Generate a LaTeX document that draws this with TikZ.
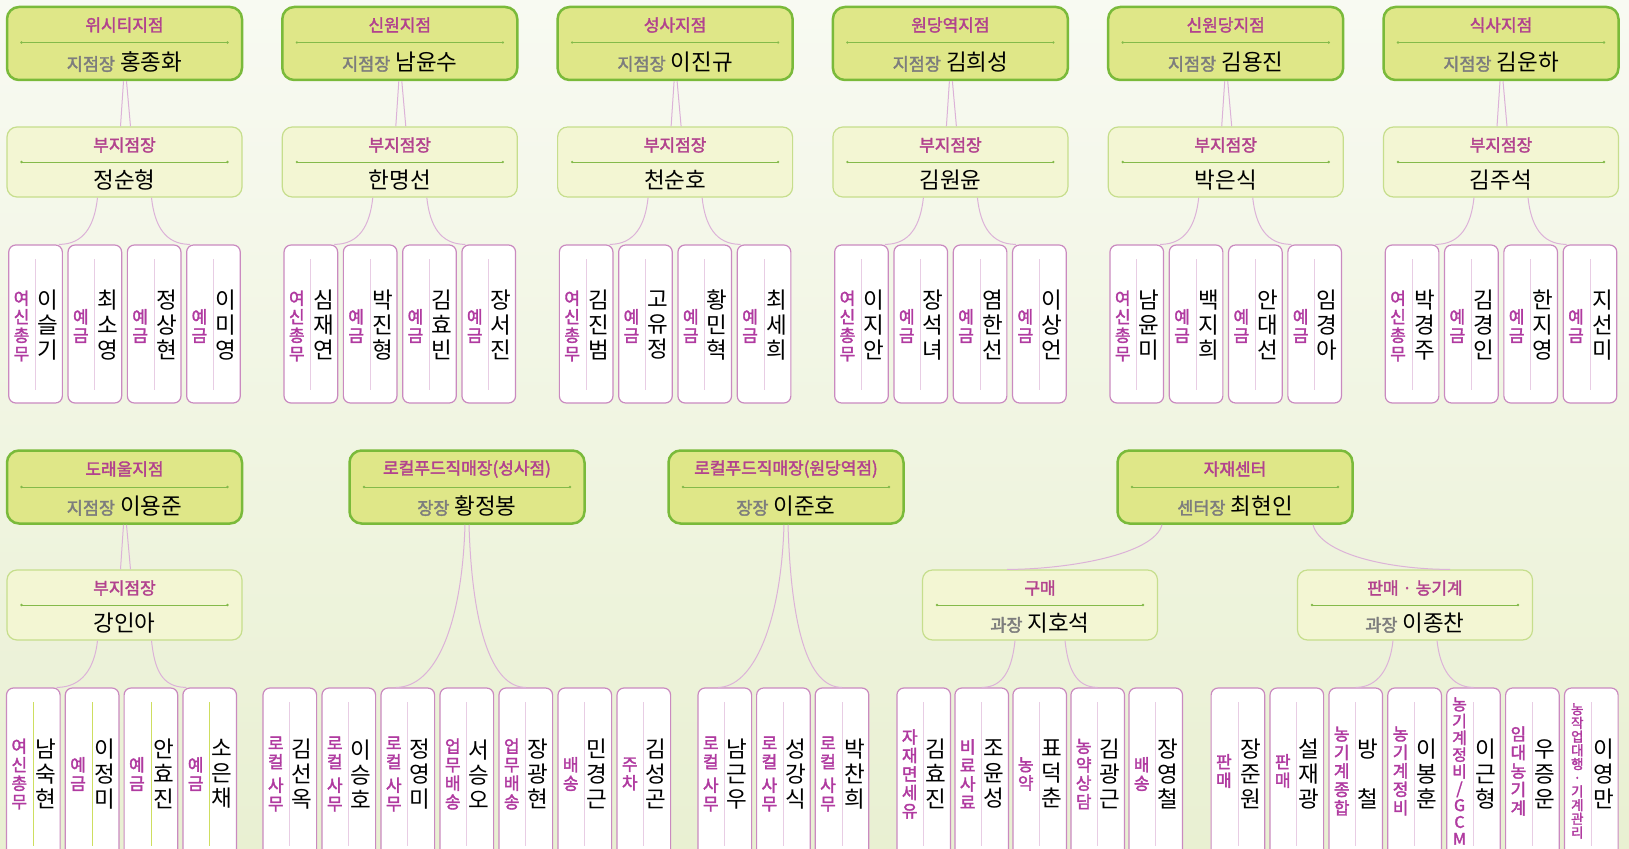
\documentclass[tikz,border=0pt]{standalone}
\usepackage{fontspec}
\setmainfont{Noto Sans CJK KR}
\newfontfamily\krbold{Noto Sans CJK KR}[FakeBold=2]
\usetikzlibrary{positioning}

\definecolor{bgtop}{RGB}{248,250,242}
\definecolor{bgbot}{RGB}{233,240,210}
\definecolor{headfill}{RGB}{223,231,136}
\definecolor{headdraw}{RGB}{122,186,58}
\definecolor{depfill}{RGB}{243,246,211}
\definecolor{depdraw}{RGB}{198,222,140}
\definecolor{memdraw}{RGB}{202,138,192}
\definecolor{titlecol}{RGB}{178,66,142}
\definecolor{rolecol}{RGB}{176,58,160}
\definecolor{linkcol}{RGB}{220,178,216}
\definecolor{labelgrey}{RGB}{125,125,125}
\definecolor{sepgreen}{RGB}{132,186,74}
\definecolor{midpink}{RGB}{232,205,228}
\definecolor{midgreen}{RGB}{206,222,96}

\newcommand{\lbl}[1]{{\color{labelgrey}\krbold\fontsize{17.5}{17.5}\selectfont #1}\ }

\tikzset{
  headbox/.style={draw=headdraw, line width=2.5pt, fill=headfill, rounded corners=12pt,
    minimum width=235pt, minimum height=73pt, inner sep=0pt},
  depbox/.style={draw=depdraw, line width=1.2pt, fill=depfill, rounded corners=10pt,
    minimum width=235pt, minimum height=70pt, inner sep=0pt},
  membox/.style={draw=memdraw, line width=1.2pt, fill=white, rounded corners=7pt,
    minimum width=53.6pt, minimum height=158pt, inner sep=0pt},
  lowbox/.style={membox, minimum height=172pt},
  titletext/.style={text=titlecol, font=\krbold\fontsize{17}{17}\selectfont, inner sep=0pt},
  nametext/.style={font=\fontsize{22.5}{22.5}\selectfont, inner sep=0pt},
  roletext/.style={text=rolecol, font=\krbold\fontsize{17}{18.5}\selectfont, align=center, inner sep=0pt},
  rolemid/.style={roletext, font=\krbold\fontsize{16}{16.8}\selectfont},
  rolesmall/.style={roletext, font=\krbold\fontsize{13.5}{13.7}\selectfont},
  vname/.style={font=\fontsize{22.5}{25}\selectfont, align=center, inner sep=0pt},
  link/.style={draw=linkcol, line width=1pt},
  sepline/.style={draw=sepgreen, line width=0.6pt},
  midline/.style={draw=midpink, line width=0.8pt},
}

\begin{document}
\begin{tikzpicture}[x=1pt,y=-1pt]
  \useasboundingbox (0,0) rectangle (1629,848);
  \clip (0,0) rectangle (1629,848);
  \shade[top color=bgtop, bottom color=bgbot] (0,0) rectangle (1629,848);

  % top row: six branches
  \foreach \i/\br/\boss/\sub in {0/위시티지점/홍종화/정순형, 1/신원지점/남윤수/한명선,
      2/성사지점/이진규/천순호, 3/원당역지점/김희성/김원윤,
      4/신원당지점/김용진/박은식, 5/식사지점/김운하/김주석} {
    \pgfmathsetmacro\cx{124.5+275.3*\i}
    \node[headbox] (h\i) at (\cx,43.5) {};
    \node[titletext] (h\i-t) at (\cx,25) {\br};
    \draw[sepline] (\cx-103,42.5) -- (\cx+103,42.5);
    \fill[sepgreen] (\cx-103,42.5) circle (1.3pt) (\cx+103,42.5) circle (1.3pt);
    \node[nametext] (h\i-n) at (\cx,62) {\lbl{지점장}\boss};
    \node[depbox] (d\i) at (\cx,162) {};
    \node[titletext] (d\i-t) at (\cx,145) {부지점장};
    \draw[sepline] (\cx-103,162) -- (\cx+103,162);
    \fill[sepgreen] (\cx-103,162) circle (1.3pt) (\cx+103,162) circle (1.3pt);
    \node[nametext] (d\i-n) at (\cx,180) {\sub};
    \draw[link] ([xshift=-1pt]h\i.south) -- ([xshift=-4pt]d\i.north);
    \draw[link] ([xshift=2pt]h\i.south) -- ([xshift=6pt]d\i.north);
  }

  \foreach \i/\ma/\mb/\mc/\md in {0/{이\\슬\\기}/{최\\소\\영}/{정\\상\\현}/{이\\미\\영},
      1/{심\\재\\연}/{박\\진\\형}/{김\\효\\빈}/{장\\서\\진},
      2/{김\\진\\범}/{고\\유\\정}/{황\\민\\혁}/{최\\세\\희},
      3/{이\\지\\안}/{장\\석\\녀}/{염\\한\\선}/{이\\상\\언},
      4/{남\\윤\\미}/{백\\지\\희}/{안\\대\\선}/{임\\경\\아},
      5/{박\\경\\주}/{김\\경\\인}/{한\\지\\영}/{지\\선\\미}} {
    \foreach \j/\role/\who in {0/{여\\신\\총\\무}/\ma, 1/{예\\금}/\mb, 2/{예\\금}/\mc, 3/{예\\금}/\md} {
      \pgfmathsetmacro\mx{124.5+275.3*\i+59.3*(\j-1.5)}
      \node[membox] (m\i\j) at (\mx,324) {};
      \draw[midline] (\mx,259) -- (\mx,390);
      \node[roletext] (m\i\j-r) at (\mx-14,326) {\role};
      \node[vname] (m\i\j-n) at (\mx+12.5,325) {\who};
    }
    \draw[link] ([xshift=-27pt]d\i.south) .. controls +(-3,28) and +(25,0) .. ([xshift=-4pt]m\i0.north east);
    \draw[link] ([xshift=27pt]d\i.south) .. controls +(3,28) and +(-25,0) .. ([xshift=4pt]m\i3.north west);
  }

  % bottom row: 도래울
  \node[headbox] (h6) at (124.5,487) {};
  \node[titletext] (h6-t) at (124.5,469) {도래울지점};
  \draw[sepline] (21.5,487) -- (227.5,487);
  \fill[sepgreen] (21.5,487) circle (1.3pt) (227.5,487) circle (1.3pt);
  \node[nametext] (h6-n) at (124.5,506) {\lbl{지점장}이용준};
  \node[depbox] (d6) at (124.5,605) {};
  \node[titletext] (d6-t) at (124.5,588) {부지점장};
  \draw[sepline] (21.5,605) -- (227.5,605);
  \fill[sepgreen] (21.5,605) circle (1.3pt) (227.5,605) circle (1.3pt);
  \node[nametext] (d6-n) at (124.5,623) {강인아};
  \foreach \j/\role/\who in {0/{여\\신\\총\\무}/{남\\숙\\현}, 1/{예\\금}/{이\\정\\미},
      2/{예\\금}/{안\\효\\진}, 3/{예\\금}/{소\\은\\채}} {
    \pgfmathsetmacro\mx{121.5+58.8*(\j-1.5)}
    \node[lowbox] (m6\j) at (\mx,774) {};
    \draw[midline, draw=midgreen] (\mx,702) -- (\mx,846);
    \node[roletext] (m6\j-r) at (\mx-14,774) {\role};
    \node[vname] (m6\j-n) at (\mx+12.5,774) {\who};
  }
  \draw[link] ([xshift=-1pt]h6.south) -- ([xshift=-4pt]d6.north);
  \draw[link] ([xshift=2pt]h6.south) -- ([xshift=6pt]d6.north);
  \draw[link] ([xshift=-27pt]d6.south) .. controls +(-3,28) and +(25,0) .. ([xshift=-4pt]m60.north east);
  \draw[link] ([xshift=27pt]d6.south) .. controls +(3,28) and +(-25,0) .. ([xshift=4pt]m63.north west);

  % 로컬푸드직매장 (성사점)
  \node[headbox] (hls) at (467,487) {};
  \node[titletext] (hls-t) at (467,469) {로컬푸드직매장(성사점)};
  \draw[sepline] (364,487) -- (570,487);
  \fill[sepgreen] (364,487) circle (1.3pt) (570,487) circle (1.3pt);
  \node[nametext] (hls-n) at (467,506) {\lbl{장장}황정봉};
  \foreach \j/\role/\who in {0/{로\\컬\\[5pt]사\\무}/{김\\선\\옥}, 1/{로\\컬\\[5pt]사\\무}/{이\\승\\호},
      2/{로\\컬\\[5pt]사\\무}/{정\\영\\미}, 3/{업\\무\\배\\송}/{서\\승\\오},
      4/{업\\무\\배\\송}/{장\\광\\현}, 5/{배\\송}/{민\\경\\근}, 6/{주\\차}/{김\\성\\곤}} {
    \pgfmathsetmacro\mx{289.8+59*\j}
    \node[lowbox] (ls\j) at (\mx,774) {};
    \draw[midline] (\mx,702) -- (\mx,846);
    \node[roletext] (ls\j-r) at (\mx-14,774) {\role};
    \node[vname] (ls\j-n) at (\mx+12.5,774) {\who};
  }
  \draw[link] ([xshift=-2pt]hls.south) .. controls +(-3,100) and +(40,0) .. ([xshift=-12pt]ls2.north);
  \draw[link] ([xshift=2pt]hls.south) .. controls +(3,100) and +(-35,0) .. (ls4.north);

  % 로컬푸드직매장 (원당역점)
  \node[headbox] (hlw) at (786,487) {};
  \node[titletext] (hlw-t) at (786,469) {로컬푸드직매장(원당역점)};
  \draw[sepline] (683,487) -- (889,487);
  \fill[sepgreen] (683,487) circle (1.3pt) (889,487) circle (1.3pt);
  \node[nametext] (hlw-n) at (786,506) {\lbl{장장}이준호};
  \foreach \j/\who in {0/{남\\근\\우}, 1/{성\\강\\식}, 2/{박\\찬\\희}} {
    \pgfmathsetmacro\mx{724.8+58.6*\j}
    \node[lowbox] (lw\j) at (\mx,774) {};
    \draw[midline] (\mx,702) -- (\mx,846);
    \node[roletext] (lw\j-r) at (\mx-14,774) {로\\컬\\[5pt]사\\무};
    \node[vname] (lw\j-n) at (\mx+12.5,774) {\who};
  }
  \draw[link] ([xshift=-2pt]hlw.south) .. controls +(-3,100) and +(35,0) .. ([xshift=-7pt]lw0.north);
  \draw[link] ([xshift=2pt]hlw.south) .. controls +(3,100) and +(-35,0) .. (lw2.north);

  % 자재센터
  \node[headbox] (hjj) at (1235,487) {};
  \node[titletext] (hjj-t) at (1235,469) {자재센터};
  \draw[sepline] (1132,487) -- (1338,487);
  \fill[sepgreen] (1132,487) circle (1.3pt) (1338,487) circle (1.3pt);
  \node[nametext] (hjj-n) at (1235,506) {\lbl{센터장}최현인};
  \foreach \dn/\cx/\ti/\who in {dgm/1040/구매/지호석, dpm/1415/{판매 · 농기계}/이종찬} {
    \node[depbox] (\dn) at (\cx,605) {};
    \node[titletext] (\dn-t) at (\cx,588) {\ti};
    \draw[sepline] (\cx-103,605) -- (\cx+103,605);
    \fill[sepgreen] (\cx-103,605) circle (1.3pt) (\cx+103,605) circle (1.3pt);
    \node[nametext] (\dn-n) at (\cx,623) {\lbl{과장}\who};
  }
  \foreach \j/\role/\who in {0/{자\\재\\면\\세\\유}/{김\\효\\진}, 1/{비\\료\\사\\료}/{조\\윤\\성},
      2/{농\\약}/{표\\덕\\춘}, 3/{농\\약\\상\\담}/{김\\광\\근}, 4/{배\\송}/{장\\영\\철}} {
    \pgfmathsetmacro\mx{923.7+58*\j}
    \node[lowbox] (gm\j) at (\mx,774) {};
    \draw[midline] (\mx,702) -- (\mx,846);
    \node[roletext] (gm\j-r) at (\mx-14,774) {\role};
    \node[vname] (gm\j-n) at (\mx+12.5,774) {\who};
  }
  \foreach \j/\rs/\role/\who in {0/roletext/{판\\매}/{장\\준\\원}, 1/roletext/{판\\매}/{설\\재\\광},
      2/roletext/{농\\기\\계\\종\\합}/{방\\ \\철}, 3/roletext/{농\\기\\계\\정\\비}/{이\\봉\\훈},
      4/rolemid/{농\\기\\계\\정\\비\\{\slash}\\G\\C\\M}/{이\\근\\형},
      5/roletext/{임\\대\\농\\기\\계}/{우\\증\\운},
      6/rolesmall/{농\\작\\업\\대\\행\\·\\기\\계\\관\\리}/{이\\영\\만}} {
    \pgfmathsetmacro\mx{1237.9+58.9*\j}
    \node[lowbox] (pm\j) at (\mx,774) {};
    \draw[midline] (\mx,702) -- (\mx,846);
    \node[\rs] (pm\j-r) at (\mx-14,771) {\role};
    \node[vname] (pm\j-n) at (\mx+12.5,774) {\who};
  }
  \draw[link] ([xshift=-73pt]hjj.south) .. controls +(-8,30) and +(60,0) .. ([xshift=-33pt]dgm.north);
  \draw[link] ([xshift=78pt]hjj.south) .. controls +(8,30) and +(-60,0) .. ([xshift=35pt]dpm.north);
  \draw[link] ([xshift=-25pt]dgm.south) .. controls +(-3,28) and +(22,0) .. (gm1.north);
  \draw[link] ([xshift=25pt]dgm.south) .. controls +(3,28) and +(-22,0) .. (gm3.north);
  \draw[link] ([xshift=-22pt]dpm.south) .. controls +(-3,28) and +(22,0) .. (pm2.north);
  \draw[link] ([xshift=22pt]dpm.south) .. controls +(3,28) and +(-22,0) .. (pm4.north);
\end{tikzpicture}
\end{document}
